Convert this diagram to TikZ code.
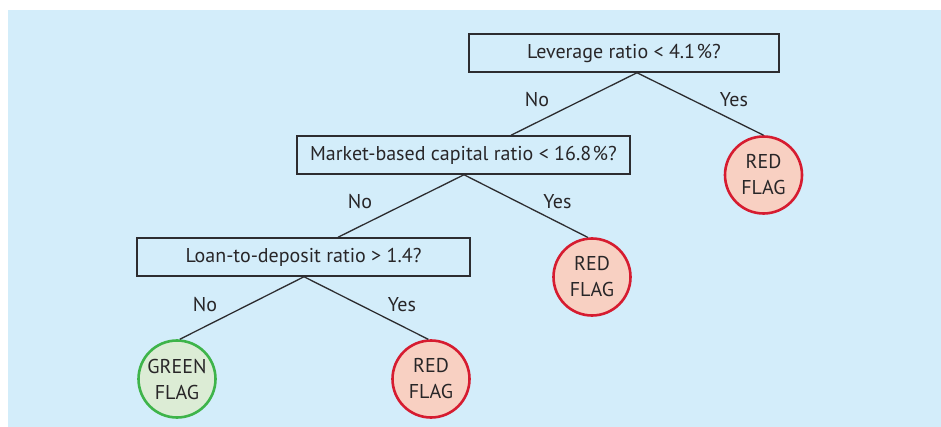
\documentclass[tikz,border=0pt]{standalone}
\usepackage{fontspec}
\setmainfont{PT Sans}
\definecolor{bg}{RGB}{211,237,250}
\definecolor{txt}{RGB}{40,38,40}
\definecolor{boxline}{RGB}{45,45,48}
\definecolor{redline}{RGB}{214,28,48}
\definecolor{redfill}{RGB}{248,208,194}
\definecolor{greenline}{RGB}{62,180,74}
\definecolor{greenfill}{RGB}{220,236,213}
\begin{document}
\begin{tikzpicture}[x=1pt,y=-1pt,
  every node/.style={font=\fontsize{20}{26}\selectfont, text=txt},
  qbox/.style={draw=boxline, line width=1.5pt, minimum height=38pt, inner sep=0pt},
  flag/.style={circle, line width=2.6pt, minimum size=77pt, inner sep=0pt, align=center},
  redflag/.style={flag, draw=redline, fill=redfill},
  greenflag/.style={flag, draw=greenline, fill=greenfill},
  conn/.style={draw=boxline, line width=1.3pt},
  lbl/.style={inner sep=0pt}]
\useasboundingbox (0,0) rectangle (941,427);
\fill[bg] (8,10) rectangle (941,427);
% question boxes
\node[qbox, minimum width=310pt] (q1) at (624,53) {Leverage ratio < 4.1\kern1.5pt\%?};
\node[qbox, minimum width=333pt] (q2) at (463.5,155) {Market-based capital ratio < 16.8\kern1.5pt\%?};
\node[qbox, minimum width=333pt] (q3) at (303.5,257) {Loan-to-deposit ratio > 1.4?};
% flags
\node[redflag] (r1) at (763.5,175) {RED\\FLAG};
\node[redflag] (r2) at (592,277) {RED\\FLAG};
\node[greenflag] (g3) at (177,379) {GREEN\\FLAG};
\node[redflag] (r3) at (431,379) {RED\\FLAG};
% connectors
\draw[conn] ([xshift=47.5pt]q2.north) -- ([xshift=13pt]q1.south) -- (r1.north);
\draw[conn] ([xshift=34.5pt]q3.north) -- ([xshift=0.5pt]q2.south) -- (r2.96);
\draw[conn] (g3.86) -- ([xshift=0.5pt]q3.south) -- (r3.94);
% labels
\node[lbl] (n1) at (537,100) {No};
\node[lbl] (y1) at (734,100) {Yes};
\node[lbl] (n2) at (360,202) {No};
\node[lbl] (y2) at (557.5,202) {Yes};
\node[lbl] (n3) at (205,305) {No};
\node[lbl] (y3) at (402,305) {Yes};
\end{tikzpicture}
\end{document}
